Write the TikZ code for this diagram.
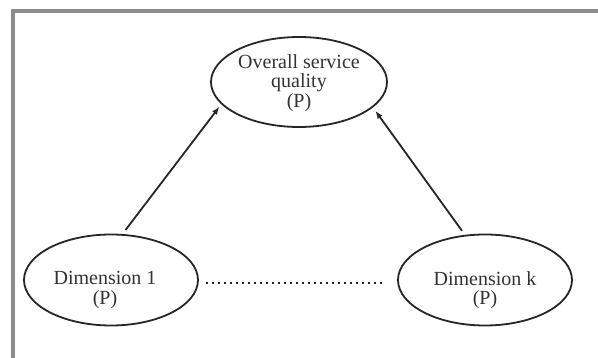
\documentclass[tikz,border=0pt]{standalone}
\usepackage{fontspec}
\setmainfont{Liberation Serif}
\usetikzlibrary{shapes.geometric,arrows.meta}
\definecolor{framegray}{HTML}{8C8C8C}
\definecolor{ink}{HTML}{262626}
\definecolor{txtgray}{HTML}{333333}
\tikzset{
  oval/.style={ellipse, draw=ink, line width=1.8pt, inner sep=0pt},
  lbl/.style={align=center, text=txtgray, inner sep=0pt,
    font=\fontsize{20}{19.5}\selectfont},
  conn/.style={draw=ink, line width=1.8pt, -{Latex[length=8pt,width=6pt]}},
  dots/.style={draw=ink, line width=2pt, dash pattern=on 1.8pt off 4.2pt}
}
\begin{document}
\begin{tikzpicture}[x=1pt,y=-1pt]
\useasboundingbox (0,0) rectangle (598,358);
\clip (0,0) rectangle (598,358);
\fill[white] (0,0) rectangle (598,358);
\draw[framegray, line width=3.5pt] (13,370) -- (13,11) -- (610,11);
\node[oval, minimum width=176pt, minimum height=90pt] (top) at (299,82) {};
\node[lbl] (toptxt) at (299,83) {Overall service\\quality\\(P)};
\node[oval, minimum width=174pt, minimum height=91pt] (d1) at (111,280) {};
\node[lbl] (d1txt) at (105,290) {Dimension 1\\(P)};
\node[oval, minimum width=174pt, minimum height=91pt] (dk) at (485,280) {};
\node[lbl] (dktxt) at (485,290) {Dimension k\\(P)};
\draw[conn, shorten <=5pt, shorten >=3pt] (d1.76) -- (top.196);
\draw[conn, shorten <=5pt, shorten >=4pt] (dk.114) -- (top.-19);
\draw[dots, shorten <=7pt, shorten >=13pt] (d1.east |- 0,283) -- (dk.west |- 0,283);
\end{tikzpicture}
\end{document}
